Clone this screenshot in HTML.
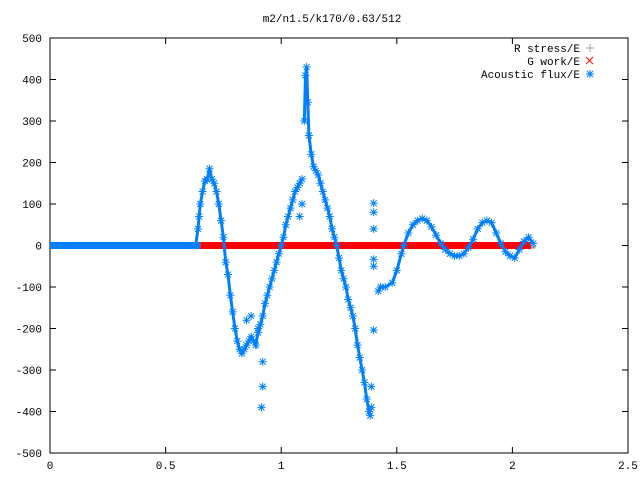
<!DOCTYPE html>
<html><head><meta charset="utf-8"><style>
body{margin:0;background:#fff}
svg{display:block;font-family:"Liberation Mono","DejaVu Sans Mono",monospace;font-size:11px}
</style></head><body>
<svg id="chart" width="640" height="480">
<text x="332" y="22" text-anchor="middle">m2/n1.5/k170/0.63/512</text>
<g id="axes"></g>
<g id="series"></g>
<g>
<text x="580" y="52" text-anchor="end">R stress/E</text>
<text x="580" y="65" text-anchor="end">G work/E</text>
<text x="580" y="78" text-anchor="end">Acoustic flux/E</text>
<path d="M586,48h8M590,44v8" stroke="#a0a0a0"/>
<path d="M586,57l7,7M593,57l-7,7" stroke="#ff0000"/>
<path d="M586,74h8M590,70v8M587,71l6,6M593,71l-6,6" stroke="#0080ff"/>
</g>
</svg>
<script>
const xTicks=[0,0.5,1,1.5,2,2.5];
const xTickLabels=["0","0.5","1","1.5","2","2.5"];
const yTicks=[500,400,300,200,100,0,-100,-200,-300,-400,-500];
const yTickLabels=["500","400","300","200","100","0","-100","-200","-300","-400","-500"];
const flatX=[0,0.65];
const flatY=[0,0];
const gworkX=[0.65,2.08];
const gworkY=[0,0];
const rstressX=[1.35,2.1];
const rstressY=[-4,-4];
const fluxX=[0.63,0.64,0.645,0.65,0.66,0.67,0.68,0.69,0.70,0.71,0.72,0.73,0.74,0.75,0.76,0.77,0.78,0.79,0.80,0.81,0.82,0.83,0.84,0.85,0.86,0.87,0.88,0.89,0.90,0.91,0.92,0.93,0.94,0.95,0.96,0.97,0.98,0.99,1.00,1.01,1.02,1.03,1.04,1.05,1.06,1.07,1.08,1.09,
0.85,0.87,0.92,0.92,0.915,0.90,1.08,1.09,
1.10,1.105,1.11,1.115,1.12,1.13,1.14,1.15,1.16,1.17,1.18,1.19,1.20,1.21,1.22,1.23,1.24,1.25,1.26,1.27,1.28,1.29,1.30,1.31,1.32,1.33,1.34,1.35,1.36,1.37,1.38,1.385,
1.40,1.40,1.40,1.40,1.40,1.40,1.39,1.39,
1.42,1.43,1.45,1.48,1.50,1.52,1.53,1.55,1.57,1.59,1.61,1.63,1.65,1.67,1.69,1.71,1.73,1.75,1.77,1.79,1.81,1.83,1.85,1.87,1.89,1.91,1.93,1.95,1.97,1.99,2.01,2.03,2.05,2.07,2.09];
const fluxY=[0,40,70,100,130,155,160,185,160,150,130,100,60,20,-40,-70,-120,-160,-200,-230,-250,-260,-250,-240,-230,-220,-230,-240,-210,-190,-170,-140,-120,-100,-80,-60,-40,-20,0,20,50,70,90,110,130,140,150,160,
-180,-170,-280,-340,-390,-200,70,100,
300,410,430,345,265,220,190,180,170,150,130,110,90,70,40,20,0,-30,-60,-80,-100,-130,-150,-170,-200,-240,-270,-300,-330,-370,-400,-410,
102,80,40,-33,-50,-204,-390,-340,
-110,-100,-100,-90,-60,-20,0,30,50,60,65,60,45,25,5,-10,-20,-25,-25,-20,-5,15,40,55,60,55,30,5,-15,-25,-30,-10,10,20,5];
const X0=50,X1=628,Y0=453,Y1=38;
const sx=v=>X0+(v-0)/(2.5-0)*(X1-X0);
const sy=v=>Y0-(v+500)/1000*(Y0-Y1);
const NS="http://www.w3.org/2000/svg";
function mk(t,a,p){const e=document.createElementNS(NS,t);for(const k in a)e.setAttribute(k,a[k]);p.appendChild(e);return e;}
const axes=document.getElementById('axes'),ser=document.getElementById('series');
const frame=mk('rect',{x:X0,y:Y1,width:X1-X0,height:Y0-Y1,fill:'none',stroke:'#000'},axes);


xTicks.forEach((v,i)=>{
 const x=sx(v);
 const t=mk('path',{d:`M${x},${Y0}v-6M${x},${Y1}v6`,stroke:'#000'},axes);
 
 
 const l=mk('text',{x:x,y:Y0+16,'text-anchor':'middle'},axes);l.textContent=xTickLabels[i];
 
 
});
yTicks.forEach((v,i)=>{
 const y=sy(v);
 const t=mk('path',{d:`M${X0},${y}h6M${X1},${y}h-6`,stroke:'#000'},axes);
 
 
 const l=mk('text',{x:X0-8,y:y+4,'text-anchor':'end'},axes);l.textContent=yTickLabels[i];
 
 
});
const rs=mk('line',{x1:sx(rstressX[0]),x2:sx(rstressX[1]),y1:sy(rstressY[0]),y2:sy(rstressY[1]),stroke:'#a0a0a0','stroke-width':3},ser);


const fl=mk('line',{x1:sx(flatX[0]),x2:sx(flatX[1]),y1:sy(flatY[0]),y2:sy(flatY[1]),stroke:'#0080ff','stroke-width':7},ser);


const gw=mk('line',{x1:sx(gworkX[0]),x2:sx(gworkX[1]),y1:sy(gworkY[0]),y2:sy(gworkY[1]),stroke:'#ff0000','stroke-width':7},ser);


let d='';
fluxX.forEach((v,i)=>{const x=sx(v),y=sy(fluxY[i]);d+=`M${x-4},${y}h8M${x},${y-4}v8M${x-3},${y-3}l6,6M${x+3},${y-3}l-6,6`;});
let dl='';
for(let i=0;i<48;i++)dl+=(i?'L':'M')+sx(fluxX[i])+','+sy(fluxY[i]);
for(let i=56;i<88;i++)dl+=(i>56?'L':'M')+sx(fluxX[i])+','+sy(fluxY[i]);
for(let i=96;i<fluxX.length;i++)dl+=(i>96?'L':'M')+sx(fluxX[i])+','+sy(fluxY[i]);
const fline=mk('path',{d:dl,fill:'none',stroke:'#0080ff','stroke-width':3},ser);


const fp=mk('path',{d:d,stroke:'#0080ff','stroke-width':1},ser);


</script>
</body></html>
